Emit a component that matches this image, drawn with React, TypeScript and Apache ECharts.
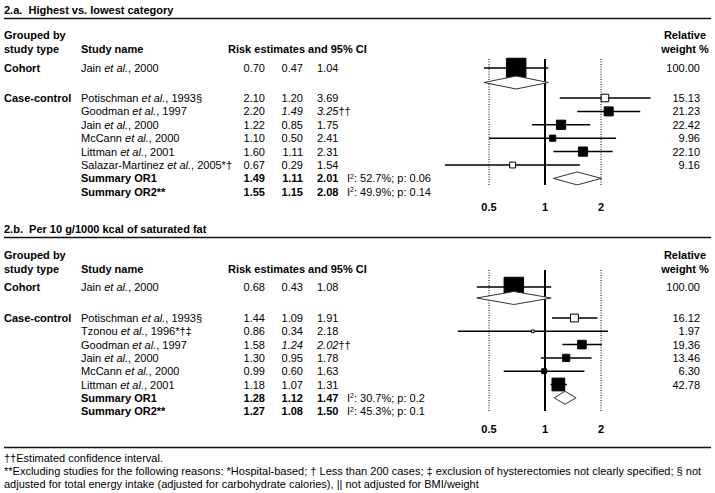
import React, { useEffect, useRef } from 'react';
import * as echarts from 'echarts';

// ---------- Panel 2.a data ----------
const aAuthors = ['Jain', 'Potischman', 'Goodman', 'Jain', 'McCann', 'Littman', 'Salazar-Martinez'];
const aYears = ['2000', '1993§', '1997', '2000', '2000', '2001', '2005*†'];
const aOR = [0.7, 2.1, 2.2, 1.22, 1.1, 1.6, 0.67];
const aLo = [0.47, 1.2, 1.49, 0.85, 0.5, 1.11, 0.29];
const aHi = [1.04, 3.69, 3.25, 1.75, 2.41, 2.31, 1.54];
const aWeight = [100.0, 15.13, 21.23, 22.42, 9.96, 22.1, 9.16];
const aHollow = [0, 1, 0, 0, 0, 0, 1];
const aEstCI = [0, 0, 1, 0, 0, 0, 0];
const aSumOR = [1.49, 1.55];
const aSumLo = [1.11, 1.15];
const aSumHi = [2.01, 2.08];
const aI2 = [52.7, 49.9];
const aP = [0.06, 0.14];

// ---------- Panel 2.b data ----------
const bAuthors = ['Jain', 'Potischman', 'Tzonou', 'Goodman', 'Jain', 'McCann', 'Littman'];
const bYears = ['2000', '1993§', '1996*†‡', '1997', '2000', '2000', '2001'];
const bOR = [0.68, 1.44, 0.86, 1.58, 1.3, 0.99, 1.18];
const bLo = [0.43, 1.09, 0.34, 1.24, 0.95, 0.6, 1.07];
const bHi = [1.08, 1.91, 2.18, 2.02, 1.78, 1.63, 1.31];
const bWeight = [100.0, 16.12, 1.97, 19.36, 13.46, 6.3, 42.78];
const bHollow = [0, 1, 1, 0, 0, 0, 0];
const bEstCI = [0, 0, 0, 1, 0, 0, 0];
const bSumOR = [1.28, 1.27];
const bSumLo = [1.12, 1.08];
const bSumHi = [1.47, 1.5];
const bI2 = [30.7, 45.3];
const bP = [0.2, 0.1];

// ---------- shared ----------
const summaryLabels = ['Summary OR1', 'Summary OR2**'];
const tickLabels = [0.5, 1, 2];
const groupLabels = ['Cohort', 'Case-control'];
const footnotes = [
  '††Estimated confidence interval.',
  '**Excluding studies for the following reasons: *Hospital-based; † Less than 200 cases; ‡ exclusion of hysterectomies not clearly specified; § not',
  'adjusted for total energy intake (adjusted for carbohydrate calories), || not adjusted for BMI/weight',
];

const FONT = '"Liberation Sans", Arial, Helvetica, sans-serif';
const FS = 11;

const panels = [
  {
    title: '2.a.  Highest vs. lowest category',
    titleY: 10, ruleY: 18.5, headY: 35, cohortY: 68, diamondY: 82.5, ccY: 98, pitch: 13.4,
    top: 59, bottom: 185, labelMargin: 16,
    authors: aAuthors, years: aYears, or: aOR, lo: aLo, hi: aHi, weight: aWeight, hollow: aHollow, est: aEstCI,
    sumOR: aSumOR, sumLo: aSumLo, sumHi: aSumHi, i2: aI2, p: aP,
  },
  {
    title: '2.b.  Per 10 g/1000 kcal of saturated fat',
    titleY: 229, ruleY: 237.5, headY: 255, cohortY: 287, diamondY: 298, ccY: 318, pitch: 13.3,
    top: 270, bottom: 411, labelMargin: 12,
    authors: bAuthors, years: bYears, or: bOR, lo: bLo, hi: bHi, weight: bWeight, hollow: bHollow, est: bEstCI,
    sumOR: bSumOR, sumLo: bSumLo, sumHi: bSumHi, i2: bI2, p: bP,
  },
];

function rich(bold: boolean) {
  return {
    i: { fontFamily: FONT, fontSize: FS, fontStyle: 'italic', fontWeight: bold ? 'bold' : 'normal', fill: '#000' },
    s: { fontFamily: FONT, fontSize: 7, fill: '#000', verticalAlign: 'top' },
  };
}

function txt(x: number, y: number, t: string, o: any = {}) {
  return {
    type: 'text',
    x,
    y,
    silent: true,
    style: {
      text: t,
      fill: '#000',
      fontFamily: FONT,
      fontSize: o.size || FS,
      fontWeight: o.bold ? 'bold' : 'normal',
      fontStyle: o.italic ? 'italic' : 'normal',
      align: o.align || 'left',
      verticalAlign: 'middle',
      rich: o.rich ? rich(!!o.bold) : undefined,
    },
  };
}

function rule(y: number) {
  return { type: 'line', silent: true, shape: { x1: 4, y1: y, x2: 711, y2: y }, style: { stroke: '#111', lineWidth: 1.4 } };
}

const fmt = (v: number) => v.toFixed(2);

function buildOption() {
  const grid: any[] = [];
  const xAxis: any[] = [];
  const yAxis: any[] = [];
  const series: any[] = [];
  const graphic: any[] = [];

  panels.forEach((P, gi) => {
    const rowY = (i: number) => (i === 0 ? P.cohortY : P.ccY + (i - 1) * P.pitch);
    const unit = (y: number) => (y - P.cohortY) / P.pitch;
    const nCC = P.or.length - 1;
    const sumY = (k: number) => P.ccY + (nCC + k) * P.pitch;

    grid.push({ left: 433, width: 224, top: P.top, height: P.bottom - P.top, containLabel: false });
    xAxis.push({
      type: 'log', logBase: 2, min: 0.25, max: 4, gridIndex: gi,
      axisLine: { show: false }, axisTick: { show: false }, splitLine: { show: false },
      axisLabel: {
        margin: P.labelMargin, fontFamily: FONT, fontSize: FS, fontWeight: 'bold', color: '#000',
        formatter: (v: number) => {
          const t = tickLabels.find((k) => Math.abs(k - v) < 1e-6);
          return t === undefined ? '' : String(t);
        },
      },
    });
    yAxis.push({ type: 'value', gridIndex: gi, inverse: true, min: unit(P.top), max: unit(P.bottom), show: false });

    // reference lines at 0.5, 1, 2
    series.push({
      type: 'custom', xAxisIndex: gi, yAxisIndex: gi, silent: true,
      data: tickLabels.map((v) => [v, 0]),
      encode: { x: 0, y: 1 },
      renderItem: (params: any, api: any) => {
        const v = api.value(0);
        const x = api.coord([v, 0])[0];
        const cs = params.coordSys;
        const solid = v === 1;
        return {
          type: 'line',
          shape: { x1: x, y1: cs.y, x2: x, y2: cs.y + cs.height },
          style: { stroke: '#000', lineWidth: solid ? 2 : 1, lineDash: solid ? null : [1, 1.5] },
        };
      },
    });

    // studies: CI line + square
    series.push({
      type: 'custom', xAxisIndex: gi, yAxisIndex: gi, silent: true,
      data: P.or.map((v, i) => [v, P.lo[i], P.hi[i], unit(rowY(i)), P.weight[i], P.hollow[i]]),
      encode: { x: [0, 1, 2], y: 3 },
      renderItem: (params: any, api: any) => {
        const r = api.value(3);
        const c = api.coord([api.value(0), r]);
        const l = api.coord([api.value(1), r]);
        const h = api.coord([api.value(2), r]);
        const s = Math.max(2.5, 1.95 * Math.sqrt(api.value(4)));
        const hollow = api.value(5) === 1;
        return {
          type: 'group',
          children: [
            { type: 'line', shape: { x1: l[0], y1: l[1], x2: h[0], y2: h[1] }, style: { stroke: '#000', lineWidth: 1.5 } },
            {
              type: 'rect',
              shape: { x: c[0] - s / 2, y: c[1] - s / 2, width: s, height: s },
              style: { fill: hollow ? '#fff' : '#000', stroke: '#000', lineWidth: 1 },
            },
          ],
        };
      },
    });

    // diamonds: cohort summary + Summary OR1
    series.push({
      type: 'custom', xAxisIndex: gi, yAxisIndex: gi, silent: true,
      data: [
        [P.or[0], P.lo[0], P.hi[0], unit(P.diamondY)],
        [P.sumOR[0], P.sumLo[0], P.sumHi[0], unit(sumY(0))],
      ],
      encode: { x: [0, 1, 2], y: 3 },
      renderItem: (params: any, api: any) => {
        const r = api.value(3);
        const c = api.coord([api.value(0), r]);
        const l = api.coord([api.value(1), r]);
        const h = api.coord([api.value(2), r]);
        const hh = 6.5;
        return {
          type: 'polygon',
          shape: { points: [[l[0], c[1]], [c[0], c[1] - hh], [h[0], c[1]], [c[0], c[1] + hh]] },
          style: { fill: '#fff', stroke: '#333', lineWidth: 1 },
        };
      },
    });

    // ---- table texts ----
    graphic.push(txt(4, P.titleY, P.title, { bold: true }));
    graphic.push(rule(P.ruleY));
    const h2 = P.headY + 13.5;
    graphic.push(txt(4, P.headY, 'Grouped by', { bold: true }));
    graphic.push(txt(4, h2, 'study type', { bold: true }));
    graphic.push(txt(81, h2, 'Study name', { bold: true }));
    graphic.push(txt(228, h2, 'Risk estimates and 95% CI', { bold: true }));
    graphic.push(txt(685, P.headY, 'Relative', { bold: true, align: 'center' }));
    graphic.push(txt(685, h2, 'weight %', { bold: true, align: 'center' }));
    graphic.push(txt(4, P.cohortY, groupLabels[0], { bold: true }));
    graphic.push(txt(4, P.ccY, groupLabels[1], { bold: true }));

    P.or.forEach((v, i) => {
      const y = rowY(i);
      graphic.push(txt(81, y, `${P.authors[i]} {i|et al.}, ${P.years[i]}`, { rich: true }));
      graphic.push(txt(265, y, fmt(v), { align: 'right' }));
      if (P.est[i]) {
        graphic.push(txt(303, y, fmt(P.lo[i]), { align: 'right', italic: true }));
        graphic.push(txt(317, y, `{i|${fmt(P.hi[i])}}††`, { rich: true }));
      } else {
        graphic.push(txt(303, y, fmt(P.lo[i]), { align: 'right' }));
        graphic.push(txt(317, y, fmt(P.hi[i])));
      }
      graphic.push(txt(700, y, fmt(P.weight[i]), { align: 'right' }));
    });

    summaryLabels.forEach((lab, k) => {
      const y = sumY(k);
      graphic.push(txt(81, y, lab, { bold: true }));
      graphic.push(txt(265, y, fmt(P.sumOR[k]), { align: 'right', bold: true }));
      graphic.push(txt(303, y, fmt(P.sumLo[k]), { align: 'right', bold: true }));
      graphic.push(txt(317, y, fmt(P.sumHi[k]), { bold: true }));
      graphic.push(txt(347, y, `I{s|2}: ${P.i2[k].toFixed(1)}%; p: ${P.p[k]}`, { rich: true }));
    });
  });

  graphic.push(rule(447.5));
  footnotes.forEach((f, k) => graphic.push(txt(4, 458 + k * 13, f, { size: 11 })));

  return {
    animation: false,
    backgroundColor: '#fff',
    grid,
    xAxis,
    yAxis,
    series,
    graphic,
  };
}

export default function App() {
  const ref = useRef<HTMLDivElement>(null);
  useEffect(() => {
    document.body.style.margin = '0';
    const chart = echarts.init(ref.current!, null, { renderer: 'svg' });
    chart.setOption(buildOption() as any);
    return () => chart.dispose();
  }, []);
  return <div ref={ref} style={{ width: 715, height: 493, background: '#fff' }} />;
}
